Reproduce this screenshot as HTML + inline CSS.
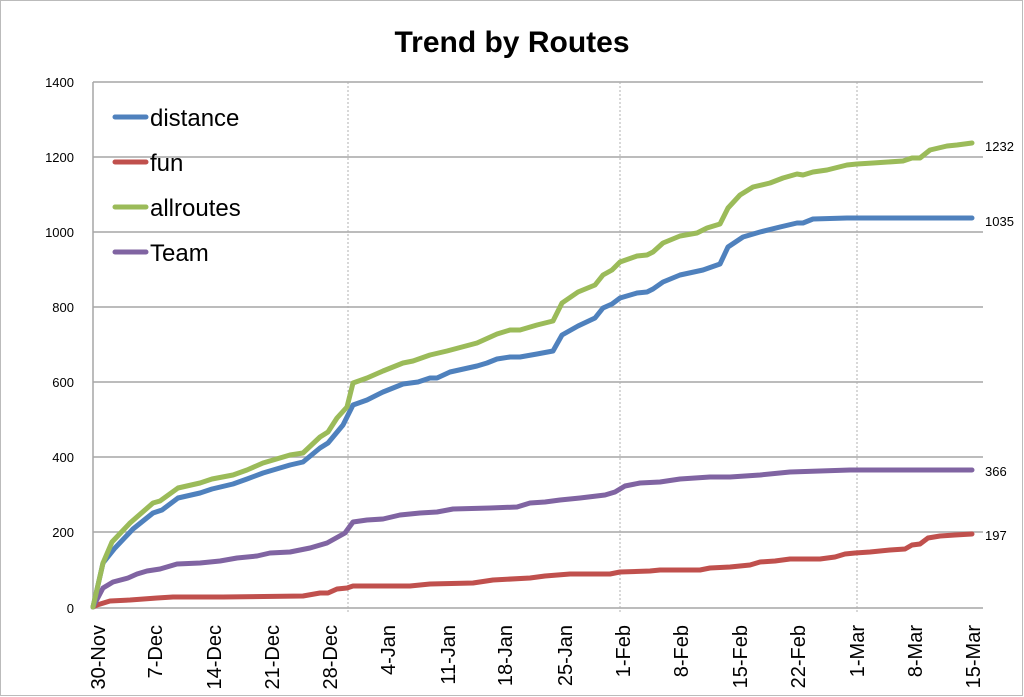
<!DOCTYPE html>
<html><head><meta charset="utf-8"><style>
html,body{margin:0;padding:0;background:#fff;}
svg{display:block;}
text{font-family:"Liberation Sans",sans-serif;}
</style></head><body>
<svg width="1024" height="697" viewBox="0 0 1024 697" xmlns="http://www.w3.org/2000/svg">
<rect x="0.5" y="0.5" width="1022" height="695" fill="#fff" stroke="#bbb"/>
<text x="512" y="52" font-size="30" font-weight="bold" text-anchor="middle">Trend by Routes</text>
<g stroke="#a6a6a6" stroke-width="1.5">
<line x1="93" y1="82" x2="983" y2="82"/>
<line x1="93" y1="157" x2="983" y2="157"/>
<line x1="93" y1="232" x2="983" y2="232"/>
<line x1="93" y1="307" x2="983" y2="307"/>
<line x1="93" y1="382" x2="983" y2="382"/>
<line x1="93" y1="457" x2="983" y2="457"/>
<line x1="93" y1="532" x2="983" y2="532"/>
<line x1="93" y1="608" x2="983" y2="608"/>
<line x1="93" y1="82" x2="93" y2="608"/>
</g>
<g stroke="#b0b0b0" stroke-width="1" stroke-dasharray="2,2">
<line x1="348" y1="82" x2="348" y2="612"/>
<line x1="620" y1="82" x2="620" y2="612"/>
<line x1="857" y1="82" x2="857" y2="612"/>
</g>
<g font-size="13" text-anchor="end">
<text x="74" y="87">1400</text><text x="74" y="162">1200</text><text x="74" y="237">1000</text>
<text x="74" y="312">800</text><text x="74" y="387">600</text><text x="74" y="462">400</text>
<text x="74" y="537">200</text><text x="74" y="613">0</text>
</g>
<g font-size="20" text-anchor="end">
<text transform="translate(105,625) rotate(-90)">30-Nov</text>
<text transform="translate(162,625) rotate(-90)">7-Dec</text>
<text transform="translate(221,625) rotate(-90)">14-Dec</text>
<text transform="translate(279,625) rotate(-90)">21-Dec</text>
<text transform="translate(337,625) rotate(-90)">28-Dec</text>
<text transform="translate(395,625) rotate(-90)">4-Jan</text>
<text transform="translate(455,625) rotate(-90)">11-Jan</text>
<text transform="translate(512,625) rotate(-90)">18-Jan</text>
<text transform="translate(572,625) rotate(-90)">25-Jan</text>
<text transform="translate(630,625) rotate(-90)">1-Feb</text>
<text transform="translate(688,625) rotate(-90)">8-Feb</text>
<text transform="translate(747,625) rotate(-90)">15-Feb</text>
<text transform="translate(805,625) rotate(-90)">22-Feb</text>
<text transform="translate(864,625) rotate(-90)">1-Mar</text>
<text transform="translate(922,625) rotate(-90)">8-Mar</text>
<text transform="translate(980,625) rotate(-90)">15-Mar</text>
</g>
<g fill="none" stroke-width="5" stroke-linejoin="round" stroke-linecap="round">
<polyline stroke="#c0504d" points="93,607 97,605 110,601 130,600 157,598 173,597 223,597 303,596 320,593 328,593 337,589 347,588 353,586 410,586 430,584 473,583 493,580 530,578 545,576 570,574 610,574 620,572 650,571 660,570 700,570 710,568 730,567 750,565 760,562 775,561 790,559 820,559 835,557 845,554 855,553 870,552 890,550 905,549 912,545 920,544 928,538 940,536 955,535 972,534"/>
<polyline stroke="#8064a2" points="93,607 103,588 113,582 128,578 137,574 147,571 160,569 177,564 200,563 220,561 237,558 257,556 270,553 290,552 310,548 327,543 345,533 353,522 367,520 383,519 400,515 420,513 437,512 453,509 490,508 517,507 530,503 545,502 560,500 580,498 605,495 615,492 625,486 640,483 660,482 680,479 710,477 730,477 760,475 790,472 820,471 850,470 972,470"/>
<polyline stroke="#4f81bd" points="93,607 103,563 115,548 133,529 153,513 162,510 178,498 200,493 212,489 233,484 247,479 263,473 290,465 303,462 320,448 328,443 343,425 353,405 367,400 383,392 403,384 418,382 430,378 437,378 450,372 477,366 487,363 497,359 510,357 520,357 537,354 553,351 562,335 578,326 595,318 603,308 612,304 620,298 637,293 647,292 653,289 663,282 680,275 703,270 720,264 728,247 743,237 760,232 780,227 797,223 803,223 813,219 847,218 972,218"/>
<polyline stroke="#9bbb59" points="93,607 103,563 112,542 130,523 153,503 160,501 178,488 200,483 212,479 233,475 247,470 263,463 290,455 303,453 320,437 328,432 337,418 347,407 353,383 367,378 383,371 403,363 413,361 430,355 447,351 477,343 497,334 510,330 520,330 537,325 553,321 562,303 578,292 595,285 603,275 612,270 620,262 637,256 647,255 653,252 663,243 680,236 697,233 707,228 720,224 728,208 740,195 753,187 770,183 783,178 797,174 803,175 813,172 827,170 847,165 857,164 873,163 903,161 912,158 920,158 930,150 947,146 957,145 972,143"/>
</g>
<g font-size="13">
<text x="985" y="151">1232</text><text x="985" y="226">1035</text>
<text x="985" y="476">366</text><text x="985" y="540">197</text>
</g>
<g stroke-width="5" stroke-linecap="round">
<line x1="115" y1="117" x2="146" y2="117" stroke="#4f81bd"/>
<line x1="115" y1="162" x2="146" y2="162" stroke="#c0504d"/>
<line x1="115" y1="207" x2="146" y2="207" stroke="#9bbb59"/>
<line x1="115" y1="252" x2="146" y2="252" stroke="#8064a2"/>
</g>
<g font-size="24">
<text x="150" y="126">distance</text><text x="150" y="171">fun</text>
<text x="150" y="216">allroutes</text><text x="150" y="261">Team</text>
</g>
</svg>
</body></html>
